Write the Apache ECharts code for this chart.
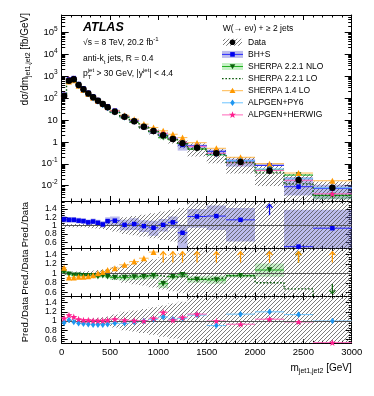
<!DOCTYPE html>
<html>
<head>
<meta charset="utf-8">
<script src="https://cdn.jsdelivr.net/npm/echarts@6.0.0/dist/echarts.min.js"></script>
<style>
html, body { margin: 0; padding: 0; background: #fff; }
#chart { width: 374px; height: 396px; }
</style>
</head>
<body>
<div id="chart"></div>
<script>
// m(jet1,jet2) bin edges [GeV]
var binEdges = [0, 50, 100, 150, 200, 250, 300, 350, 400, 450, 500, 600, 700, 800, 900, 1000, 1100, 1200, 1300, 1500, 1700, 2000, 2300, 2600, 3000];

// measured cross section [fb/GeV] and relative uncertainty (hatched band)
var dataXsec = [123, 620, 715, 390, 250, 163, 108, 76, 53, 38, 24, 14, 8.7, 4.9, 3.1, 2.0, 1.35, 0.87, 0.54, 0.30, 0.12, 0.048, 0.018, 0.008];
var dataRelErr = [0.05, 0.04, 0.04, 0.04, 0.04, 0.05, 0.06, 0.07, 0.08, 0.1, 0.14, 0.2, 0.23, 0.26, 0.3, 0.34, 0.38, 0.42, 0.6, 0.65, 0.7, 0.8, 0.9, 0.95];

// Pred./Data ratios
var bhsRatio = [1.15, 1.14, 1.14, 1.12, 1.11, 1.08, 1.10, 1.07, 1.03, 1.11, 1.12, 1.02, 1.04, 0.99, 0.95, 1.02, 1.08, 0.83, 1.22, 1.23, 1.14, 1.75, 0.50, 0.94];
var bhsLo = [1.07, 1.07, 1.07, 1.05, 1.04, 1.01, 1.03, 1.0, 0.95, 1.02, 1.0, 0.89, 0.9, 0.85, 0.76, 0.86, 0.94, 0.46, 0.95, 0.9, 0.62, 1.65, 0.2, 0.3];
var bhsHi = [1.23, 1.21, 1.21, 1.19, 1.18, 1.15, 1.17, 1.14, 1.11, 1.2, 1.22, 1.14, 1.18, 1.13, 1.12, 1.16, 1.22, 1.02, 1.4, 1.48, 1.42, 2.2, 1.38, 1.38];

var nloRatio = [1.03, 0.98, 0.96, 0.96, 0.95, 0.95, 0.95, 0.93, 0.95, 0.93, 0.91, 0.91, 0.92, 0.93, 0.95, 0.78, 0.93, 0.97, 0.87, 0.86, 0.95, 1.07, 1.7, 0.45];
var nloLo = [1.0, 0.95, 0.93, 0.93, 0.92, 0.92, 0.92, 0.9, 0.91, 0.89, 0.86, 0.85, 0.86, 0.87, 0.88, 0.69, 0.87, 0.91, 0.8, 0.78, 0.91, 0.93, 1.6, 0.3];
var nloHi = [1.06, 1.01, 0.99, 0.99, 0.98, 0.98, 0.98, 0.96, 0.99, 0.97, 0.96, 0.97, 0.98, 0.99, 1.02, 0.87, 0.99, 1.03, 0.94, 0.95, 0.99, 1.21, 1.8, 0.5];

var sherpaLoRatio = [1.0, 0.98, 0.97, 0.97, 0.96, 0.96, 0.95, 0.95, 0.96, 0.95, 0.94, 0.95, 0.94, 0.95, 0.96, 0.93, 0.92, 0.94, 0.88, 0.9, 0.95, 0.80, 0.67, 0.45];
var sherpa14Ratio = [1.12, 0.91, 0.91, 0.93, 0.93, 0.94, 0.96, 1.0, 1.03, 1.07, 1.11, 1.18, 1.25, 1.32, 1.45, 1.6, 1.65, 1.8, 1.7, 1.7, 1.65, 2.1, 2.1, 2.1];
var py6Ratio = [0.96, 1.02, 0.98, 0.95, 0.94, 0.93, 0.92, 0.92, 0.92, 0.93, 0.95, 0.95, 0.98, 1.0, 1.04, 1.09, 1.04, 1.06, 1.13, 0.9, 1.15, 1.2, 1.14, 1.0];
var herwigRatio = [1.06, 1.13, 1.09, 1.04, 1.02, 1.02, 1.01, 1.01, 1.01, 1.02, 1.04, 1.02, 1.01, 1.0, 1.06, 1.19, 1.02, 1.08, 1.15, 1.0, 0.93, 1.04, 0.98, 0.53];

// ticks
var xTicks = [0, 500, 1000, 1500, 2000, 2500, 3000];
var mainYTicks = [0.01, 0.1, 1, 10, 100, 1000, 10000, 100000];
var ratioYTicks = [0.6, 0.8, 1, 1.2, 1.4];

var legendNames = ['Data', 'BH+S', 'SHERPA 2.2.1 NLO', 'SHERPA 2.2.1 LO', 'SHERPA 1.4 LO', 'ALPGEN+PY6', 'ALPGEN+HERWIG'];

var FONT = "'Liberation Sans', Arial, Helvetica, sans-serif";
var C = {
    bhs: '#0000ee', bhsLine: '#2a2aff', bhsBand: 'rgba(95,95,210,0.42)',
    nlo: '#0b640b', nloLine: '#22b022', nloBand: 'rgba(90,215,90,0.35)',
    lo: '#0a5a0a',
    s14: '#ff9900', s14Line: '#ffb84d',
    py6: '#1e96f0', py6Line: '#6cc4ff',
    hw: '#ff1f8f', hwLine: '#ff66bb'
};

function makeHatch() {
    var c = document.createElement('canvas');
    c.width = 4; c.height = 4;
    var g = c.getContext('2d');
    g.strokeStyle = '#444';
    g.lineWidth = 0.7;
    g.beginPath();
    g.moveTo(0, 4); g.lineTo(4, 0);
    g.moveTo(-1, 1); g.lineTo(1, -1);
    g.moveTo(3, 5); g.lineTo(5, 3);
    g.stroke();
    return c;
}
var hatchFill = { image: makeHatch(), repeat: 'repeat' };

var L = 61.7, R = 22.3;
var grids = [
    { left: L, right: R, top: 15, height: 186 },
    { left: L, right: R, top: 201, height: 47.3 },
    { left: L, right: R, top: 248.3, height: 47.7 },
    { left: L, right: R, top: 296, height: 47.3 }
];
var panelRange = [[0.002, 6.2e5], [0.46, 1.59], [0.52, 1.53], [0.515, 1.545]];

function times(a, b) { return a.map(function (v, i) { return v * b[i]; }); }
var binCenters = binEdges.slice(1).map(function (e, i) { return (e + binEdges[i]) / 2; });

// axes
var xAxes = [], yAxes = [], extraY = [];
function plainLabel(v) { return String(v); }
grids.forEach(function (g, gi) {
    ['bottom', 'top'].forEach(function (pos) {
        xAxes.push({
            type: 'value', gridIndex: gi, position: pos, min: xTicks[0], max: xTicks[xTicks.length - 1],
            interval: xTicks[1] - xTicks[0],
            axisLine: { show: true, onZero: false, lineStyle: { color: '#000', width: 1 } },
            axisTick: { show: true, inside: true, length: gi === 0 ? 5 : 4, lineStyle: { color: '#000', width: 1 } },
            minorTick: { show: true, splitNumber: 5, length: 2.5, lineStyle: { color: '#000', width: 1 } },
            splitLine: { show: false },
            axisLabel: {
                show: gi === 3 && pos === 'bottom', margin: 4, fontSize: 9.5, color: '#000', fontFamily: FONT,
                showMinLabel: true, showMaxLabel: true, hideOverlap: false, formatter: plainLabel
            }
        });
    });

    var r = panelRange[gi];
    var major, minor = [], labelsA, labelsB = null;
    if (gi === 0) {
        major = mainYTicks;
        labelsA = mainYTicks;
        for (var e = -3; e <= 5; e++) {
            for (var k = 2; k <= 9; k++) {
                var v = k * Math.pow(10, e);
                if (v > r[0] && v < r[1]) minor.push(v);
            }
        }
    } else {
        major = ratioYTicks;
        // alternate labels split over two axes so none is dropped as overlapping
        labelsA = ratioYTicks.filter(function (t, i) { return i % 2 === 0; });
        labelsB = ratioYTicks.filter(function (t, i) { return i % 2 === 1; });
        for (var j = 9; j <= 32; j++) {
            var w = Math.round(j * 5) / 100;
            if (w > r[0] && w < r[1] && major.indexOf(w) < 0) minor.push(w);
        }
    }
    function yAx(pos, ticks, len, labels, showLine) {
        var ax = {
            type: gi === 0 ? 'log' : 'value', gridIndex: gi, position: pos, min: r[0], max: r[1],
            axisLine: { show: showLine, onZero: false, lineStyle: { color: '#000', width: 1 } },
            axisTick: { show: !!ticks, inside: true, length: len, customValues: ticks || major, lineStyle: { color: '#000', width: 1 } },
            splitLine: { show: false },
            axisLabel: {
                show: !!labels, customValues: labels || major, margin: gi === 0 ? 4 : 5, color: '#000', fontFamily: FONT,
                fontSize: gi === 0 ? 9.5 : 8.5, showMinLabel: true, showMaxLabel: true, hideOverlap: false, formatter: plainLabel
            }
        };
        if (gi === 0) {
            ax.logBase = 10;
            ax.axisLabel.lineHeight = 14;
            ax.axisLabel.formatter = function (val) {
                var ex = Math.round(Math.log10(val));
                if (ex === 0) return '1';
                if (ex === 1) return '10';
                return '10{sup|' + ex + '}';
            };
            ax.axisLabel.rich = { sup: { fontSize: 6.5, lineHeight: 7, verticalAlign: 'top', fontFamily: FONT, color: '#000' } };
        }
        return ax;
    }
    var tl = gi === 0 ? 7 : 6, ml = gi === 0 ? 3.5 : 3;
    yAxes.push(yAx('left', major, tl, labelsA, true));
    yAxes.push(yAx('right', major, tl, null, true));
    yAxes.push(yAx('left', minor, ml, null, false));
    yAxes.push(yAx('right', minor, ml, null, false));
    if (labelsB) extraY.push(yAx('left', null, 0, labelsB, false));
});
yAxes = yAxes.concat(extraY);

// series builders
function boxSeries(gi, lo, hi, fill, z) {
    return {
        type: 'custom', xAxisIndex: 2 * gi, yAxisIndex: 4 * gi, clip: true, silent: true, z: z,
        encode: { x: [0, 1], y: [2, 3] },
        data: lo.map(function (v, i) { return [binEdges[i], binEdges[i + 1], v, hi[i]]; }),
        renderItem: function (p, api) {
            var a = api.coord([api.value(0), api.value(3)]);
            var b = api.coord([api.value(1), api.value(2)]);
            return { type: 'rect', shape: { x: a[0], y: a[1], width: b[0] - a[0], height: b[1] - a[1] }, style: { fill: fill } };
        }
    };
}
function segSeries(gi, vals, color, z) {
    return {
        type: 'custom', xAxisIndex: 2 * gi, yAxisIndex: 4 * gi, clip: true, silent: true, z: z,
        encode: { x: [0, 1], y: 2 },
        data: vals.map(function (v, i) { return [binEdges[i], binEdges[i + 1], v]; }),
        renderItem: function (p, api) {
            var a = api.coord([api.value(0), api.value(2)]);
            var b = api.coord([api.value(1), api.value(2)]);
            return { type: 'line', shape: { x1: a[0], y1: a[1], x2: b[0], y2: b[1] }, style: { stroke: color, lineWidth: 1 } };
        }
    };
}
function stepSeries(gi, vals, color, z) {
    var pts = [];
    vals.forEach(function (v, i) { pts.push([binEdges[i], v], [binEdges[i + 1], v]); });
    return {
        type: 'line', xAxisIndex: 2 * gi, yAxisIndex: 4 * gi, data: pts, symbol: 'none', clip: true, silent: true, z: z,
        lineStyle: { color: color, width: 1.4, type: [1.6, 1.8] }
    };
}
function markerSeries(gi, vals, symbol, size, color, z, rot) {
    return {
        type: 'scatter', xAxisIndex: 2 * gi, yAxisIndex: 4 * gi, symbol: symbol, symbolSize: size,
        symbolRotate: rot || 0, symbolKeepAspect: true, clip: true, silent: true, z: z,
        itemStyle: { color: color, opacity: 1 },
        data: vals.map(function (v, i) { return [binCenters[i], v]; })
    };
}
function arrowSeries(gi, vals, color, z) {
    var r = panelRange[gi], span = r[1] - r[0];
    return {
        type: 'custom', xAxisIndex: 2 * gi, yAxisIndex: 4 * gi, clip: false, silent: true, z: z,
        data: vals.map(function (v, i) { return [binCenters[i], v]; }),
        renderItem: function (p, api) {
            var v = api.value(1), x = api.value(0);
            var up = v > r[1], dn = v < r[0];
            if (!up && !dn) return null;
            var a = api.coord([x, up ? r[1] - 0.3 * span : r[0] + 0.25 * span]);
            var b = api.coord([x, up ? r[1] - 0.07 * span : r[0] + 0.05 * span]);
            var d = up ? 1 : -1;
            return {
                type: 'group', children: [
                    { type: 'line', shape: { x1: a[0], y1: a[1], x2: b[0], y2: b[1] }, style: { stroke: color, lineWidth: 1.3 } },
                    { type: 'polyline', shape: { points: [[b[0] - 3, b[1] + 3.5 * d], [b[0], b[1]], [b[0] + 3, b[1] + 3.5 * d]] }, style: { stroke: color, fill: null, lineWidth: 1.3 } }
                ]
            };
        }
    };
}
function unitLine(gi) {
    return {
        type: 'line', xAxisIndex: 2 * gi, yAxisIndex: 4 * gi, data: [], silent: true, z: 3,
        markLine: { silent: true, symbol: ['none', 'none'], label: { show: false }, animation: false,
            lineStyle: { color: '#555', width: 1, type: 'solid' }, data: [{ yAxis: 1 }] }
    };
}

function starPath() {
    var s = 'path://';
    for (var k = 0; k < 10; k++) {
        var ang = -Math.PI / 2 + k * Math.PI / 5, rad = k % 2 ? 4 : 10;
        s += (k ? 'L' : 'M') + (rad * Math.cos(ang)).toFixed(2) + ',' + (rad * Math.sin(ang)).toFixed(2);
    }
    return s + 'Z';
}
var STAR = starPath();

var series = [];
// main panel
series.push(boxSeries(0, times(dataXsec, bhsLo), times(dataXsec, bhsHi), C.bhsBand, 1));
series.push(boxSeries(0, times(dataXsec, nloLo), times(dataXsec, nloHi), C.nloBand, 1));
series.push(boxSeries(0, dataXsec.map(function (v, i) { return v * (1 - dataRelErr[i]); }),
    dataXsec.map(function (v, i) { return v * (1 + dataRelErr[i]); }), hatchFill, 2));
series.push(stepSeries(0, times(dataXsec, sherpaLoRatio), C.lo, 3));
series.push(segSeries(0, times(dataXsec, bhsRatio), C.bhsLine, 3));
series.push(segSeries(0, times(dataXsec, nloRatio), C.nloLine, 3));
series.push(segSeries(0, times(dataXsec, sherpa14Ratio), C.s14Line, 3));
series.push(segSeries(0, times(dataXsec, py6Ratio), C.py6Line, 3));
series.push(segSeries(0, times(dataXsec, herwigRatio), C.hwLine, 3));
series.push(markerSeries(0, times(dataXsec, bhsRatio), 'rect', 4.5, C.bhs, 4));
series.push(markerSeries(0, times(dataXsec, nloRatio), 'triangle', 5.5, C.nlo, 4, 180));
series.push(markerSeries(0, times(dataXsec, sherpa14Ratio), 'triangle', 6, C.s14, 4));
series.push(markerSeries(0, times(dataXsec, py6Ratio), 'diamond', [4.5, 6.5], C.py6, 4));
series.push(markerSeries(0, times(dataXsec, herwigRatio), STAR, 7, C.hw, 4));
series.push(markerSeries(0, dataXsec, 'circle', 6.5, '#000', 5));

// ratio panel 1: BH+S
var errLo = dataRelErr.map(function (e) { return 1 - e; });
var errHi = dataRelErr.map(function (e) { return 1 + e; });
series.push(boxSeries(1, bhsLo, bhsHi, C.bhsBand, 1));
series.push(boxSeries(1, errLo, errHi, hatchFill, 2));
series.push(unitLine(1));
series.push(segSeries(1, bhsRatio, C.bhsLine, 4));
series.push(markerSeries(1, bhsRatio, 'rect', 4.5, C.bhs, 5));
series.push(arrowSeries(1, bhsRatio, C.bhs, 5));

// ratio panel 2: SHERPA
series.push(boxSeries(2, nloLo, nloHi, C.nloBand, 1));
series.push(boxSeries(2, errLo, errHi, hatchFill, 2));
series.push(unitLine(2));
series.push(stepSeries(2, sherpaLoRatio, C.lo, 4));
series.push(segSeries(2, nloRatio, C.nloLine, 4));
series.push(segSeries(2, sherpa14Ratio, C.s14Line, 4));
series.push(markerSeries(2, nloRatio, 'triangle', 5.5, C.nlo, 5, 180));
series.push(markerSeries(2, sherpa14Ratio, 'triangle', 6, C.s14, 5));
series.push(arrowSeries(2, nloRatio, C.nlo, 5));
series.push(arrowSeries(2, sherpa14Ratio, C.s14, 5));

// ratio panel 3: ALPGEN
series.push(boxSeries(3, errLo, errHi, hatchFill, 2));
series.push(unitLine(3));
series.push(segSeries(3, py6Ratio, C.py6Line, 4));
series.push(segSeries(3, herwigRatio, C.hwLine, 4));
series.push(markerSeries(3, py6Ratio, 'diamond', [4.5, 6.5], C.py6, 5));
series.push(markerSeries(3, herwigRatio, STAR, 7, C.hw, 5));
series.push(arrowSeries(3, py6Ratio, C.py6, 5));
series.push(arrowSeries(3, herwigRatio, C.hw, 5));

// texts and legend
var RICH = {
    sup: { fontFamily: FONT, fontSize: 6, lineHeight: 7, verticalAlign: 'top', fill: '#000' },
    sub: { fontFamily: FONT, fontSize: 6, lineHeight: 7, verticalAlign: 'bottom', fill: '#000' },
    sub0: { fontFamily: FONT, fontSize: 6, lineHeight: 7, verticalAlign: 'bottom', width: 0, fill: '#000' },
    bsub: { fontFamily: FONT, fontSize: 7, lineHeight: 8, verticalAlign: 'bottom', fill: '#000' }
};
function text(x, y, str, size, extra) {
    var el = {
        type: 'text', x: x, y: y, silent: true,
        style: { text: str, fontFamily: FONT, fontSize: size, fill: '#000', align: 'left', verticalAlign: 'middle', lineHeight: 13, rich: RICH }
    };
    if (extra) {
        for (var k in extra) {
            if (k === 'rotation') el.rotation = extra[k];
            else el.style[k] = extra[k];
        }
    }
    return el;
}

var graphics = [];
graphics.push(text(83, 28, 'ATLAS', 12.5, { fontWeight: 'bold', fontStyle: 'italic' }));
graphics.push(text(83, 43, '\u221As = 8 TeV, 20.2 fb{sup|-1}', 8.5));
graphics.push(text(83, 58.5, 'anti-k{sub|t} jets, R = 0.4', 8.5));
graphics.push(text(83, 74, 'p{sub0|T}{sup|jet} > 30 GeV, |y{sup|jet}| < 4.4', 8.5));

graphics.push(text(25, 13, 'd\u03C3/dm{bsub|jet1,jet2} [fb/GeV]', 10, { align: 'right', rotation: Math.PI / 2 }));
for (var p = 1; p <= 3; p++) {
    graphics.push(text(25, grids[p].top + grids[p].height / 2, 'Pred./Data', 9.5, { align: 'center', rotation: Math.PI / 2 }));
}
graphics.push(text(351.7, 368, 'm{bsub|jet1,jet2} [GeV]', 10, { align: 'right' }));

// legend
var legX = 222, legW = 21, legTextX = 248, legY0 = 42.3, legDy = 12.1;
graphics.push(text(222.7, 29, 'W(\u2192 e\u03BD) + \u2265 2 jets', 8.5));
function legLine(y, color, dash, w) {
    return { type: 'line', silent: true, shape: { x1: legX, y1: y, x2: legX + legW, y2: y }, style: { stroke: color, lineWidth: w || 1, lineDash: dash || null } };
}
function legBand(y, fill) {
    return { type: 'rect', silent: true, shape: { x: legX, y: y - 3.5, width: legW, height: 7 }, style: { fill: fill } };
}
function tri(cx, cy, s, down, color) {
    var d = down ? -1 : 1;
    return { type: 'polygon', silent: true, shape: { points: [[cx - s, cy + d * s * 0.8], [cx + s, cy + d * s * 0.8], [cx, cy - d * s]] }, style: { fill: color } };
}
function starPts(cx, cy) {
    var pts = [];
    for (var k = 0; k < 10; k++) {
        var ang = -Math.PI / 2 + k * Math.PI / 5, rad = k % 2 ? 1.5 : 3.7;
        pts.push([cx + rad * Math.cos(ang), cy + rad * Math.sin(ang)]);
    }
    return pts;
}
var mx = legX + legW / 2;
legendNames.forEach(function (name, i) {
    var y = legY0 + i * legDy;
    if (i === 0) {
        graphics.push({ type: 'rect', silent: true, shape: { x: legX + 1, y: y - 3.5, width: legW - 2, height: 7 }, style: { fill: hatchFill } });
        graphics.push({ type: 'circle', silent: true, shape: { cx: mx, cy: y, r: 2.8 }, style: { fill: '#000' } });
    } else if (i === 1) {
        graphics.push(legBand(y, C.bhsBand));
        graphics.push(legLine(y, C.bhsLine));
        graphics.push({ type: 'rect', silent: true, shape: { x: mx - 2.3, y: y - 2.3, width: 4.6, height: 4.6 }, style: { fill: C.bhs } });
    } else if (i === 2) {
        graphics.push(legBand(y, C.nloBand));
        graphics.push(legLine(y, C.nloLine));
        graphics.push(tri(mx, y, 2.8, true, C.nlo));
    } else if (i === 3) {
        graphics.push(legLine(y, C.lo, [1.6, 1.8], 1.4));
    } else if (i === 4) {
        graphics.push(legLine(y, C.s14Line));
        graphics.push(tri(mx, y, 3, false, C.s14));
    } else if (i === 5) {
        graphics.push(legLine(y, C.py6Line));
        graphics.push({ type: 'polygon', silent: true, shape: { points: [[mx, y - 3.3], [mx + 2.3, y], [mx, y + 3.3], [mx - 2.3, y]] }, style: { fill: C.py6 } });
    } else {
        graphics.push(legLine(y, C.hwLine));
        graphics.push({ type: 'polygon', silent: true, shape: { points: starPts(mx, y) }, style: { fill: C.hw } });
    }
    graphics.push(text(legTextX, y, name, 8.5));
});

var chart = echarts.init(document.getElementById('chart'), null, { renderer: 'canvas' });
chart.setOption({
    animation: false,
    backgroundColor: '#fff',
    textStyle: { fontFamily: FONT },
    grid: grids.map(function (g) { return Object.assign({ containLabel: false, outerBoundsMode: 'none' }, g); }),
    xAxis: xAxes,
    yAxis: yAxes,
    series: series,
    graphic: { elements: graphics }
});
</script>
</body>
</html>
